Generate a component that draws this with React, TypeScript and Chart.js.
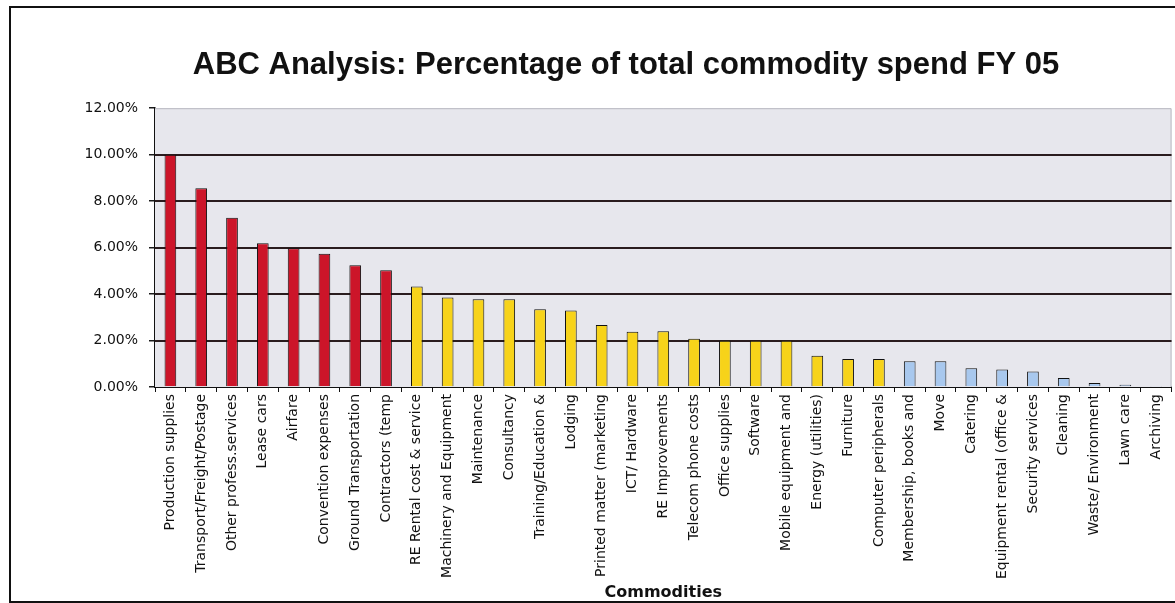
import React, { useEffect, useRef } from "react";
import { Chart, registerables } from "chart.js";

Chart.register(...registerables);

const titleText = "ABC Analysis: Percentage of total commodity spend FY 05";
const xAxisTitle = "Commodities";

const categories = [
  "Production supplies",
  "Transport/Freight/Postage",
  "Other profess.services",
  "Lease cars",
  "Airfare",
  "Convention expenses",
  "Ground Transportation",
  "Contractors (temp",
  "RE Rental cost & service",
  "Machinery and Equipment",
  "Maintenance",
  "Consultancy",
  "Training/Education &",
  "Lodging",
  "Printed matter (marketing",
  "ICT/ Hardware",
  "RE Improvements",
  "Telecom phone costs",
  "Office supplies",
  "Software",
  "Mobile equipment and",
  "Energy (utilities)",
  "Furniture",
  "Computer peripherals",
  "Membership, books and",
  "Move",
  "Catering",
  "Equipment rental (office &",
  "Security services",
  "Cleaning",
  "Waste/ Environment",
  "Lawn care",
  "Archiving",
];

const spendPercent = [
  10.0, 8.55, 7.28, 6.19, 5.97, 5.74, 5.24, 5.03, 4.33, 3.85, 3.78, 3.78, 3.35,
  3.29, 2.67, 2.38, 2.4, 2.08, 1.99, 1.99, 1.99, 1.34, 1.2, 1.2, 1.11, 1.11,
  0.81, 0.75, 0.67, 0.39, 0.17, 0.1, 0.02,
];

const abcClass = [
  "A", "A", "A", "A", "A", "A", "A", "A",
  "B", "B", "B", "B", "B", "B", "B", "B", "B", "B", "B", "B", "B", "B", "B", "B",
  "C", "C", "C", "C", "C", "C", "C", "C", "C",
];

const yTicks = [0, 2, 4, 6, 8, 10, 12];
const yGridLines = [2, 4, 6, 8, 10];

const classColors: Record<string, string> = {
  A: "#cc1529",
  B: "#f7d31a",
  C: "#a8c8ee",
};

const plotBackground = {
  id: "plotBackground",
  beforeDatasetsDraw(chart: any) {
    const { ctx, chartArea } = chart;
    if (!chartArea) return;
    const yScale = chart.scales.y;
    ctx.save();
    ctx.fillStyle = "#e7e7ed";
    ctx.fillRect(
      chartArea.left,
      chartArea.top,
      chartArea.right - chartArea.left,
      chartArea.bottom - chartArea.top
    );
    ctx.strokeStyle = "#b8b8c0";
    ctx.lineWidth = 1;
    ctx.beginPath();
    ctx.moveTo(chartArea.left, chartArea.top + 0.5);
    ctx.lineTo(chartArea.right - 0.5, chartArea.top + 0.5);
    ctx.lineTo(chartArea.right - 0.5, chartArea.bottom);
    ctx.stroke();
    ctx.strokeStyle = "#2a1c1e";
    ctx.lineWidth = 2;
    for (const v of yGridLines) {
      const y = Math.round(yScale.getPixelForValue(v));
      ctx.beginPath();
      ctx.moveTo(chartArea.left, y);
      ctx.lineTo(chartArea.right, y);
      ctx.stroke();
    }
    ctx.restore();
  },
};

export default function App() {
  const canvasRef = useRef<HTMLCanvasElement | null>(null);

  useEffect(() => {
    const canvas = canvasRef.current;
    if (!canvas) return;
    const chart = new Chart(canvas, {
      type: "bar",
      data: {
        labels: categories,
        datasets: [
          {
            label: "Percentage of total spend",
            data: spendPercent,
            backgroundColor: abcClass.map((c) => classColors[c]),
            borderColor: "#111111",
            borderWidth: 1,
            categoryPercentage: 1,
            barPercentage: 0.38,
          },
        ],
      },
      options: {
        responsive: false,
        animation: false,
        layout: { padding: { left: 80, right: 3, top: 0, bottom: 0 } },
        plugins: {
          legend: { display: false },
          tooltip: { enabled: false },
          title: {
            display: true,
            text: titleText,
            color: "#111111",
            font: { family: "'Liberation Sans', Arial, sans-serif", size: 31, weight: "bold" },
            padding: { top: 47, bottom: 24 },
          },
        },
        scales: {
          x: {
            afterFit: (scale: any) => {
              scale.height = 216;
            },
            grid: {
              display: true,
              drawOnChartArea: false,
              drawTicks: true,
              tickLength: 5,
              color: "#111111",
              offset: true,
            },
            border: { display: true, color: "#111111", width: 2 },
            ticks: {
              autoSkip: false,
              maxRotation: 90,
              minRotation: 90,
              padding: 2,
              color: "#111111",
              font: { family: "'DejaVu Sans', sans-serif", size: 14 },
            },
            title: {
              display: true,
              text: xAxisTitle,
              color: "#111111",
              font: { family: "'DejaVu Sans', sans-serif", size: 16, weight: "bold" },
              padding: { top: 0, bottom: 1 },
            },
          },
          y: {
            min: 0,
            max: 12,
            afterFit: (scale: any) => {
              scale.width = 75;
            },
            afterBuildTicks: (scale: any) => {
              scale.ticks = yTicks.map((v) => ({ value: v }));
            },
            grid: {
              color: "#1a1a1a",
              lineWidth: 1.5,
              drawOnChartArea: false,
              drawTicks: true,
              tickLength: 6,
            },
            border: { display: true, color: "#111111", width: 1.5 },
            ticks: {
              padding: 11,
              color: "#111111",
              font: { family: "'DejaVu Sans', sans-serif", size: 14 },
              callback: (v: any) => Number(v).toFixed(2) + "%",
            },
          },
        },
      },
      plugins: [plotBackground],
    });
    return () => chart.destroy();
  }, []);

  return (
    <div
      style={{
        position: "absolute",
        left: 0,
        top: 0,
        width: 1175,
        height: 603,
        overflow: "hidden",
        background: "#ffffff",
      }}
    >
      <canvas ref={canvasRef} width={1175} height={603} style={{ display: "block" }} />
      <div
        style={{
          position: "absolute",
          left: 9,
          top: 6,
          width: 1180,
          height: 593,
          border: "2px solid #111111",
          pointerEvents: "none",
        }}
      />
    </div>
  );
}
